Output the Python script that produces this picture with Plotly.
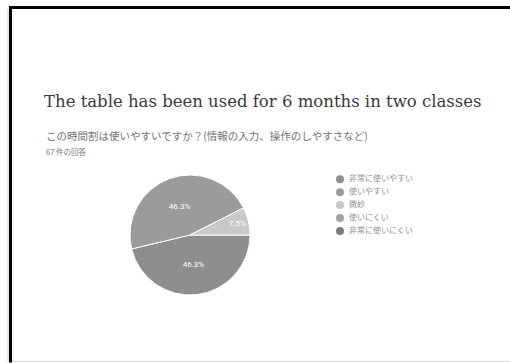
import plotly.graph_objects as go

# Survey answers (67 responses)
categories = ["非常に使いやすい", "使いやすい", "微妙", "使いにくい", "非常に使いにくい"]
counts = [31, 31, 5, 0, 0]
colors = ["#8e8e8e", "#9b9b9b", "#c9c9c9", "#a3a3a3", "#7c7c7c"]

title_text = "The table has been used for 6 months in two classes"
question_text = "この時間割は使いやすいですか？(情報の入力、操作のしやすさなど)"
responses_text = "67 件の回答"

W, H = 510, 363


def px(x):
    return x / W


def py(y):
    return 1 - y / H


# only answered categories get a slice
pie_labels = [c for c, n in zip(categories, counts) if n > 0]
pie_values = [n for n in counts if n > 0]
pie_colors = [col for col, n in zip(colors, counts) if n > 0]

fig = go.Figure()

fig.add_trace(go.Pie(
    labels=pie_labels,
    values=pie_values,
    sort=False,
    direction="clockwise",
    rotation=90,
    marker=dict(colors=pie_colors, line=dict(color="#ffffff", width=1)),
    texttemplate="%{percent:.1%}",
    textposition="inside",
    insidetextorientation="horizontal",
    textfont=dict(family="Roboto, Arial, sans-serif", size=8, color="#ffffff"),
    domain=dict(x=[px(130), px(250)], y=[py(295), py(175)]),
    showlegend=False,
    hoverinfo="label+percent",
))

# legend drawn as a small column of dots with labels
idx = list(range(len(categories)))
fig.add_trace(go.Scatter(
    x=[10] * len(categories),
    y=idx,
    mode="markers",
    marker=dict(color=colors, size=8),
    showlegend=False,
    hoverinfo="skip",
))
fig.add_trace(go.Scatter(
    x=[19] * len(categories),
    y=idx,
    mode="text",
    text=categories,
    textposition="middle right",
    textfont=dict(family="Noto Sans CJK JP", size=8, color="#929292"),
    showlegend=False,
    hoverinfo="skip",
))

# slide frame: one open path along the left and top edges
frame_path = "M {l},{b} L {l},{t} L {r},{t}".format(l=px(10.5), b=py(362.5), t=py(7.5), r=px(510))
border = [
    dict(type="line", x0=px(8), x1=px(8), y0=py(7), y1=py(362.5), line=dict(color="#d8d8d8", width=1),
         xref="paper", yref="paper"),
    dict(type="path", path=frame_path, line=dict(color="#000000", width=3), xref="paper", yref="paper"),
    dict(type="line", x0=px(12), x1=px(510), y0=py(361.5), y1=py(361.5), line=dict(color="#e2e2e2", width=1.5),
         xref="paper", yref="paper"),
]

annotations = [
    dict(text=title_text, x=px(42), y=py(102), xref="paper", yref="paper",
         xanchor="left", yanchor="middle", showarrow=False,
         font=dict(family="DejaVu Serif", size=16.5, color="#3a3a3a")),
    dict(text=question_text, x=px(44), y=py(135), xref="paper", yref="paper",
         xanchor="left", yanchor="middle", showarrow=False,
         font=dict(family="Noto Sans CJK JP", size=10.5, color="#727272")),
    dict(text=responses_text, x=px(44), y=py(151), xref="paper", yref="paper",
         xanchor="left", yanchor="middle", showarrow=False,
         font=dict(family="Noto Sans CJK JP", size=7.5, color="#7a7a7a")),
]

fig.update_layout(
    width=W,
    height=H,
    margin=dict(l=0, r=0, t=0, b=0),
    paper_bgcolor="#ffffff",
    plot_bgcolor="rgba(0,0,0,0)",
    shapes=border,
    annotations=annotations,
    # the legend column lives on its own hidden axes
    xaxis=dict(domain=[px(330), px(480)], range=[0, 150], visible=False, fixedrange=True,
               showgrid=False, zeroline=False, showline=False),
    yaxis=dict(domain=[py(240), py(170)],
               range=[(231 - 179.3) / 12.9 + (240 - 231) / 12.9, -(179.3 - 170) / 12.9],
               visible=False, fixedrange=True, showgrid=False, zeroline=False, showline=False),
)

# the page is exactly the figure size, so no scrolling is needed
page_css = ("document.documentElement.style.overflow='hidden';"
            "document.body.style.overflow='hidden';document.body.style.margin='0';")

fig.write_html("out.html", config={"displayModeBar": False}, post_script=page_css)
